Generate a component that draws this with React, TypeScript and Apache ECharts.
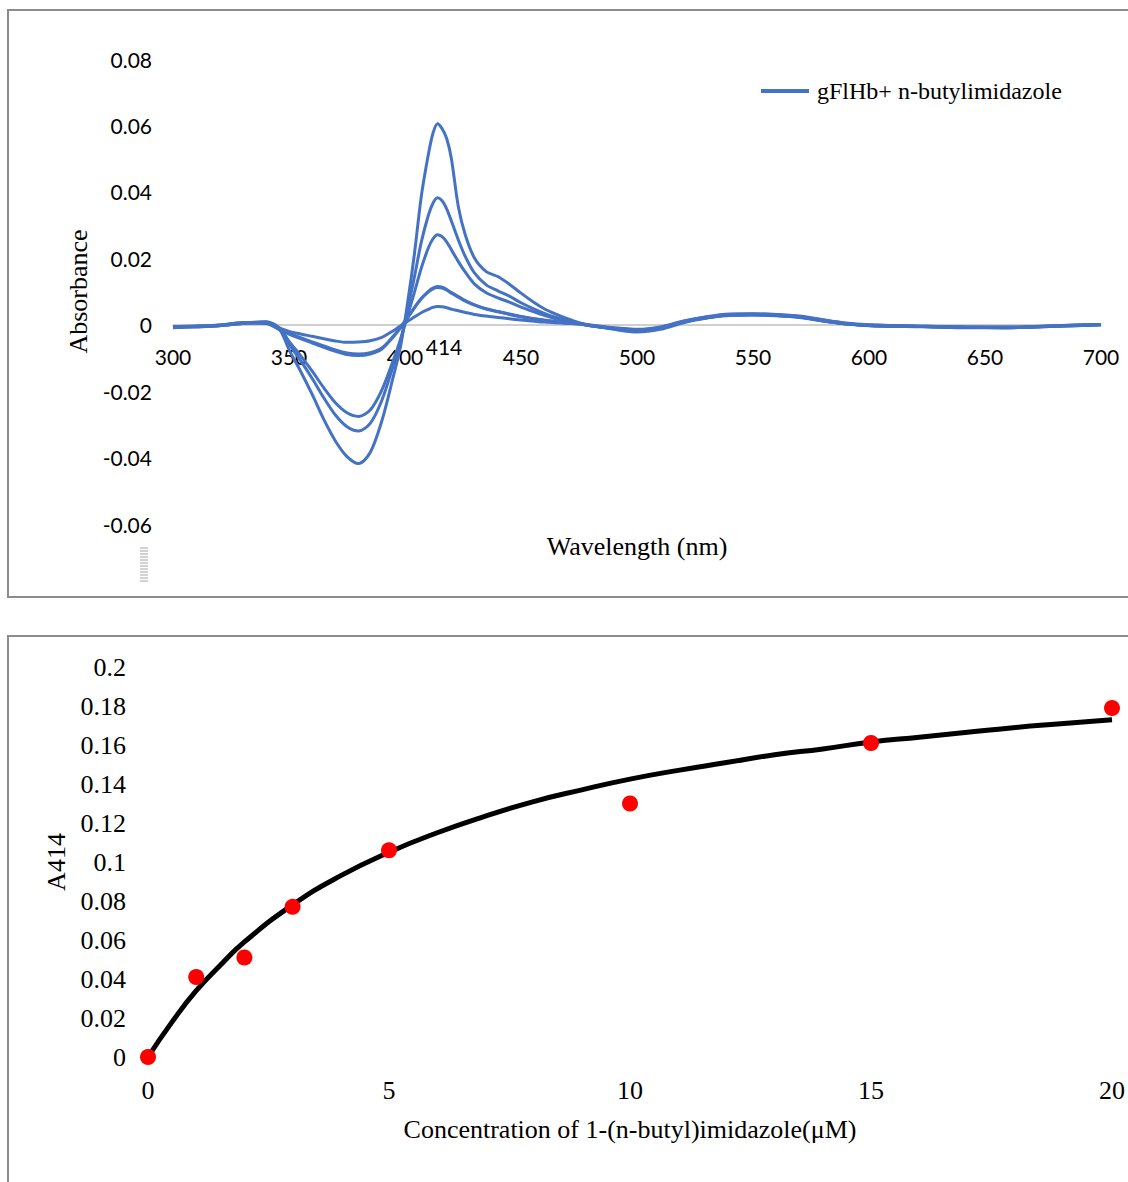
import React, { useEffect, useRef } from "react";
import * as echarts from "echarts";

const wavelengths = [300, 310, 320, 330, 340, 346, 350, 355, 360, 365, 370, 375, 380, 385, 390, 395, 398, 401, 404, 407, 410, 412, 414, 416, 418, 420, 423, 426, 430, 435, 440, 445, 450, 455, 460, 465, 470, 475, 480, 490, 500, 510, 520, 530, 540, 550, 560, 570, 580, 590, 600, 620, 640, 660, 680, 700];

const spectrumA = [
  -0.0008, -0.0006, -0.0003, 0.0005, 0.0007, -0.0015, -0.0075, -0.014, -0.021, -0.0285,
  -0.035, -0.0397, -0.0418, -0.0385, -0.029, -0.0155, -0.0068, 0.006, 0.021, 0.0385,
  0.051, 0.0575, 0.0605, 0.059, 0.056, 0.05, 0.0355, 0.027, 0.02, 0.016,
  0.0145, 0.0122, 0.0095, 0.007, 0.0048, 0.0032, 0.0018, 0.0006, -0.0002, -0.0014,
  -0.0022, -0.0014, 0.0006, 0.002, 0.003, 0.0031, 0.0029, 0.0024, 0.0012, 0.0003,
  -0.0002, -0.0005, -0.0009, -0.0009, -0.0004, 0.0,
];
const spectrumB = [
  -0.0006, -0.0004, -0.0001, 0.0006, 0.0008, -0.0012, -0.0058, -0.0108, -0.0162, -0.022,
  -0.0272, -0.0307, -0.032, -0.0297, -0.0228, -0.0122, -0.0052, 0.0042, 0.0142, 0.0248,
  0.0328, 0.0365, 0.0382, 0.0373, 0.0348, 0.0312, 0.0255, 0.0205, 0.0155, 0.012,
  0.0102, 0.0086, 0.0066, 0.0049, 0.0034, 0.0022, 0.0012, 0.0004, -0.0003, -0.0012,
  -0.0018, -0.001, 0.0008, 0.0021, 0.0028, 0.0029, 0.0027, 0.0022, 0.0011, 0.0002,
  -0.0003, -0.0006, -0.0008, -0.0008, -0.0003, 0.0001,
];
const spectrumC = [
  -0.0009, -0.0005, -0.0002, 0.0004, 0.0009, -0.001, -0.005, -0.0093, -0.014, -0.019,
  -0.0235, -0.0265, -0.0276, -0.0257, -0.0197, -0.0106, -0.0045, 0.0026, 0.0096, 0.017,
  0.023, 0.0258, 0.0271, 0.0265, 0.0249, 0.0226, 0.019, 0.0158, 0.0122, 0.0096,
  0.0081, 0.0068, 0.0053, 0.004, 0.0028, 0.0018, 0.001, 0.0003, -0.0003, -0.0011,
  -0.0017, -0.0009, 0.0009, 0.0022, 0.0029, 0.003, 0.0028, 0.0023, 0.0013, 0.0003,
  -0.0002, -0.0005, -0.0007, -0.0009, -0.0005, 0.0,
];
const spectrumD1 = [
  -0.0007, -0.0005, -0.0002, 0.0005, 0.0004, -0.0015, -0.0028, -0.0042, -0.0055, -0.0068,
  -0.008, -0.009, -0.0093, -0.0088, -0.0073, -0.0036, -0.001, 0.002, 0.005, 0.0079,
  0.01, 0.011, 0.0115, 0.0113, 0.0106, 0.0097, 0.0085, 0.0073, 0.006, 0.0048,
  0.004, 0.0032, 0.0025, 0.0019, 0.0014, 0.001, 0.0006, 0.0003, -0.0002, -0.001,
  -0.0015, -0.0008, 0.001, 0.0023, 0.0031, 0.0032, 0.003, 0.0025, 0.0014, 0.0004,
  -0.0001, -0.0004, -0.0007, -0.0008, -0.0004, 0.0001,
];
const spectrumD2 = [
  -0.0005, -0.0007, -0.0001, 0.0006, 0.0006, -0.0013, -0.0025, -0.0039, -0.0052, -0.0064,
  -0.0076, -0.0085, -0.0088, -0.0084, -0.007, -0.0034, -0.0008, 0.0021, 0.0051, 0.0078,
  0.0098, 0.0108, 0.0112, 0.011, 0.0104, 0.0095, 0.0083, 0.0071, 0.0059, 0.0047,
  0.0039, 0.0031, 0.0024, 0.0018, 0.0013, 0.0009, 0.0005, 0.0002, -0.0003, -0.0011,
  -0.0016, -0.0009, 0.0009, 0.0021, 0.0029, 0.003, 0.0029, 0.0024, 0.0012, 0.0003,
  -0.0002, -0.0005, -0.0008, -0.0009, -0.0005, 0.0,
];
const spectrumE = [
  -0.0008, -0.0004, -0.0003, 0.0004, 0.0006, -0.001, -0.002, -0.0028, -0.0035, -0.0042,
  -0.0049, -0.0053, -0.0052, -0.0048, -0.0038, -0.0018, -0.0004, 0.001, 0.0023, 0.0036,
  0.0046, 0.0052, 0.0055, 0.0054, 0.0051, 0.0047, 0.0042, 0.0037, 0.0031, 0.0026,
  0.0022, 0.0018, 0.0014, 0.0011, 0.0008, 0.0006, 0.0004, 0.0002, -0.0001, -0.0009,
  -0.0014, -0.0007, 0.0011, 0.0024, 0.0032, 0.0033, 0.0031, 0.0026, 0.0015, 0.0005,
  0.0, -0.0004, -0.0006, -0.0007, -0.0003, 0.0001,
];
const spectra = [spectrumA, spectrumB, spectrumC, spectrumD1, spectrumD2, spectrumE];
const spectrumName = "gFlHb+ n-butylimidazole";

const concentration = [0, 1, 2, 3, 5, 10, 15, 20];
const a414 = [0, 0.041, 0.051, 0.077, 0.106, 0.13, 0.161, 0.179];
const fitX = [0, 0.5, 1, 1.5, 2, 3, 4, 5, 6, 7, 8, 9, 10, 11, 12, 13, 14, 15, 16, 17, 18, 19, 20];
const fitY = [0, 0.018, 0.034, 0.047, 0.059, 0.078, 0.093, 0.105, 0.115, 0.1235, 0.131, 0.137, 0.1425, 0.147, 0.151, 0.155, 0.158, 0.1615, 0.164, 0.1665, 0.169, 0.171, 0.173];

const SANS = "Lato";
const SERIF = "'Liberation Serif', 'Times New Roman', serif";
const BLUE = "#4472C4";

const fmt = (v: number) => (Math.abs(v) < 1e-9 ? "0" : String(+v.toFixed(2)));

export default function App() {
  const ref = useRef<HTMLDivElement>(null);
  useEffect(() => {
    document.body.style.margin = "0";
    const chart = echarts.init(ref.current!, null, { renderer: "svg" });

    const hatch: any[] = [];
    for (let i = 0; i < 12; i++) {
      hatch.push({
        type: "line",
        shape: { x1: 140, y1: 548 + i * 3, x2: 148, y2: 548 + i * 3 },
        style: { stroke: "#a6a6a6", lineWidth: 1 },
      });
    }

    const spectrumSeries = spectra.map((s) => ({
      type: "line",
      name: spectrumName,
      xAxisIndex: 0,
      yAxisIndex: 0,
      data: wavelengths.map((w, i) => [w, s[i]]),
      showSymbol: false,
      smooth: 0.3,
      color: BLUE,
      lineStyle: { color: BLUE, width: 3 },
    }));

    chart.setOption({
      animation: false,
      backgroundColor: "#fff",
      legend: {
        data: [spectrumName],
        left: 756,
        top: 74,
        icon: "rect",
        itemWidth: 48,
        itemHeight: 4,
        textStyle: { fontFamily: SERIF, fontSize: 24, color: "#000", padding: [0, 0, 0, 3] },
      },
      grid: [
        { left: 173, top: 59, width: 928, height: 465 },
        { left: 148, top: 667, width: 967, height: 390 },
      ],
      xAxis: [
        {
          type: "value",
          gridIndex: 0,
          min: 300,
          max: 700,
          interval: 50,
          position: "bottom",
          offset: -199,
          axisLine: { show: true, onZero: false, lineStyle: { color: "#bfbfbf", width: 1.5 } },
          axisTick: { show: false },
          splitLine: { show: false },
          axisLabel: { fontFamily: SANS, fontSize: 21, color: "#000", margin: 21 },
        },
        {
          type: "value",
          gridIndex: 1,
          min: 0,
          max: 20,
          interval: 5,
          axisLine: { show: false },
          axisTick: { show: false },
          splitLine: { show: false },
          axisLabel: { fontFamily: SERIF, fontSize: 26, color: "#000", margin: 20 },
          name: "Concentration of 1-(n-butyl)imidazole(μM)",
          nameLocation: "middle",
          nameGap: 59,
          nameTextStyle: { fontFamily: SERIF, fontSize: 26, color: "#000" },
        },
      ],
      yAxis: [
        {
          type: "value",
          gridIndex: 0,
          min: -0.06,
          max: 0.08,
          interval: 0.02,
          axisLine: { show: false },
          axisTick: { show: false },
          splitLine: { show: false },
          axisLabel: { fontFamily: SANS, fontSize: 21, color: "#000", margin: 21, formatter: fmt },
          name: "Absorbance",
          nameLocation: "middle",
          nameGap: 82,
          nameTextStyle: { fontFamily: SERIF, fontSize: 26, color: "#000" },
        },
        {
          type: "value",
          gridIndex: 1,
          min: 0,
          max: 0.2,
          interval: 0.02,
          axisLine: { show: false },
          axisTick: { show: false },
          splitLine: { show: false },
          axisLabel: { fontFamily: SERIF, fontSize: 26, color: "#000", margin: 22, formatter: fmt },
          name: "A414",
          nameLocation: "middle",
          nameGap: 78,
          nameTextStyle: { fontFamily: SERIF, fontSize: 26, color: "#000" },
        },
      ],
      graphic: [
        {
          type: "rect",
          shape: { x: 8, y: 10, width: 1140, height: 587 },
          style: { fill: "none", stroke: "#8c8c8c", lineWidth: 2 },
          silent: true,
        },
        {
          type: "rect",
          shape: { x: 8, y: 636, width: 1140, height: 580 },
          style: { fill: "none", stroke: "#8c8c8c", lineWidth: 2 },
          silent: true,
        },
        {
          type: "text",
          x: 637,
          y: 546,
          style: {
            text: "Wavelength (nm)",
            font: "26px " + SERIF,
            fill: "#000",
            align: "center",
            verticalAlign: "middle",
          },
        },
        {
          type: "text",
          x: 444,
          y: 346,
          style: {
            text: "414",
            font: "21px " + SANS,
            fill: "#000",
            align: "center",
            verticalAlign: "middle",
          },
        },
        ...hatch,
      ],
      series: [
        ...spectrumSeries,
        {
          type: "line",
          name: "Fit",
          xAxisIndex: 1,
          yAxisIndex: 1,
          data: fitX.map((x, i) => [x, fitY[i]]),
          showSymbol: false,
          smooth: true,
          color: "#000",
          lineStyle: { color: "#000", width: 5 },
          z: 2,
        },
        {
          type: "scatter",
          name: "A414 data",
          xAxisIndex: 1,
          yAxisIndex: 1,
          data: concentration.map((c, i) => [c, a414[i]]),
          symbolSize: 16,
          itemStyle: { color: "#ff0000", opacity: 1 },
          z: 3,
        },
      ],
    });
    return () => chart.dispose();
  }, []);
  return <div ref={ref} style={{ width: 1128, height: 1182 }} />;
}
